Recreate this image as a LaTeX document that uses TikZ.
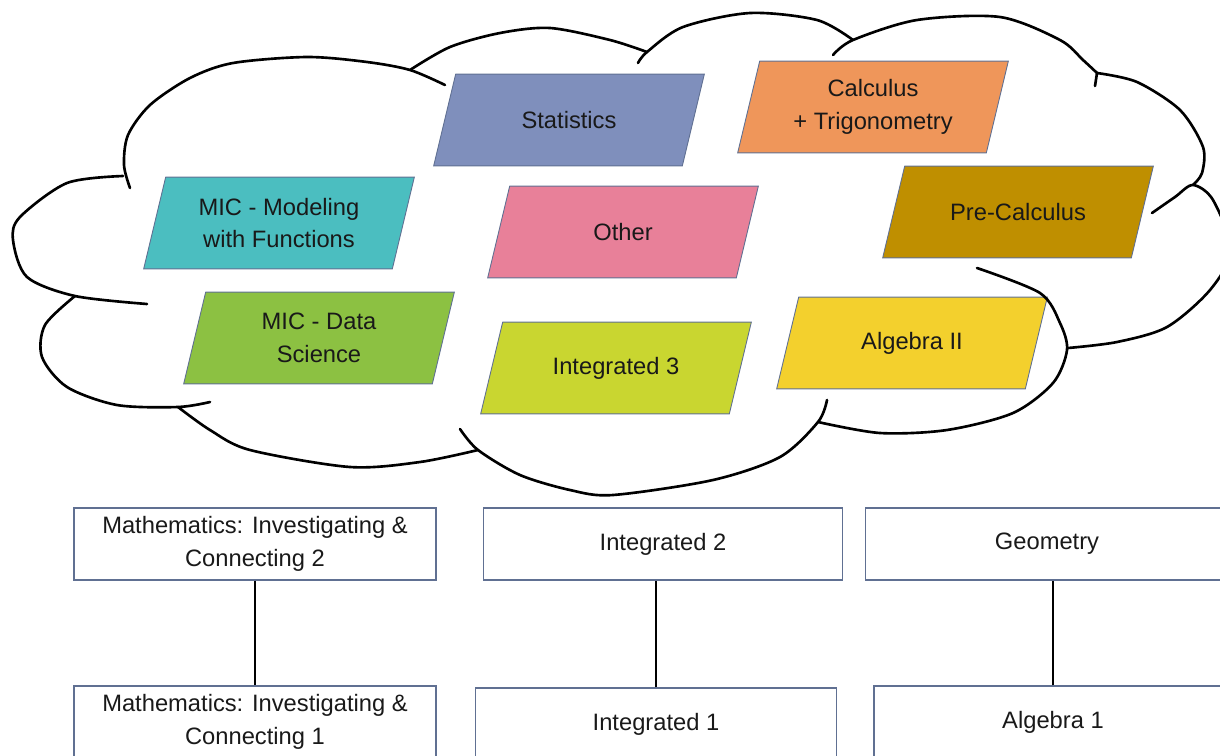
\documentclass[tikz,border=0pt]{standalone}
\usepackage{fontspec}
\setmainfont{Liberation Sans}
\usetikzlibrary{backgrounds}

\definecolor{statblue}{RGB}{127,143,188}
\definecolor{calcorange}{RGB}{239,150,90}
\definecolor{micteal}{RGB}{75,190,192}
\definecolor{otherpink}{RGB}{232,128,153}
\definecolor{precalcgold}{RGB}{191,143,0}
\definecolor{micgreen}{RGB}{140,193,66}
\definecolor{intlime}{RGB}{201,214,48}
\definecolor{alggold}{RGB}{243,208,45}
\definecolor{boxedge}{RGB}{96,112,146}
\definecolor{textgray}{RGB}{25,25,25}

\newcommand\coursefont{\fontsize{13.5}{18.7}\selectfont}

\tikzset{
  cloudline/.style={line width=1.5pt, line cap=round},
  course/.style={rectangle, minimum width=4.96cm, minimum height=1.82cm,
    inner sep=0pt, align=center, font=\coursefont, text=textgray},
  courseback/.style={fill=#1, draw=boxedge, line width=0.5pt},
  level/.style={rectangle, draw=boxedge, line width=0.7pt, minimum height=1.44cm,
    inner sep=0pt, align=center, font=\coursefont, text=textgray},
  link/.style={line width=1pt},
}

\begin{document}
\begin{tikzpicture}[x=0.02cm,y=-0.02cm]
  \useasboundingbox (0,0) rectangle (1220,755);
  \clip (0,0) rectangle (1220,755);
  % cloud outline, one bump at a time
  \draw[cloudline] plot[smooth] coordinates {(130,188) (124,165) (128,135) (150,105) (190,78) (233,63) (307,57) (367,62) (410,70) (445,85)};
  \draw[cloudline] plot[smooth] coordinates {(410,70) (450,47) (500,33) (550,28) (610,40) (647,52)};
  \draw[cloudline] plot[smooth] coordinates {(638,63) (647,52) (683,27) (750,13) (817,20) (853,40)};
  \draw[cloudline] plot[smooth] coordinates {(833,55) (853,40) (917,20) (1000,17) (1060,40) (1083,60) (1097,73)};
  \draw[cloudline] (1097,73) -- (1095,86);
  \draw[cloudline] plot[smooth] coordinates {(1097,73) (1137,82) (1180,110) (1203,147) (1202,173) (1193,185)};
  \draw[cloudline] plot[smooth] coordinates {(1152,213) (1175,197) (1193,185) (1213,200) (1231,250) (1210,290) (1167,327) (1117,342) (1068,348)};
  \draw[cloudline] plot[smooth] coordinates {(818,422) (880,433) (947,430) (1013,413) (1053,383) (1067,350) (1060,323) (1040,293) (977,268)};
  \draw[cloudline] plot[smooth] coordinates {(460,429) (478,450) (520,475) (570,490) (613,495) (713,480) (780,457) (818,422) (827,400)};
  \draw[cloudline] plot[smooth] coordinates {(178,407) (210,430) (250,450) (350,467) (420,462) (478,450)};
  \draw[cloudline] plot[smooth] coordinates {(75,296) (45,325) (42,357) (67,387) (117,405) (178,407) (210,402)};
  \draw[cloudline] plot[smooth] coordinates {(147,304) (75,296) (27,277) (13,240) (20,217) (67,183) (123,176)};

  % courses inside the cloud
  \node[course] (stat) at (569,120) {Statistics};
  \node[course] (calc) at (873,107) {Calculus\\+ Trigonometry};
  \node[course] (micmod) at (279,223) {MIC - Modeling\\with Functions};
  \node[course] (other) at (623,232) {Other};
  \node[course] (precalc) at (1018,212) {Pre-Calculus};
  \node[course] (micdata) at (319,338) {MIC - Data\\Science};
  \node[course] (intthree) at (616,368) {Integrated 3};
  \node[course] (algtwo) at (912,343) {Algebra II};
  % slanted boxes behind them
  \begin{scope}[on background layer]
    \foreach \n/\c in {stat/statblue, calc/calcorange, micmod/micteal, other/otherpink,
        precalc/precalcgold, micdata/micgreen, intthree/intlime, algtwo/alggold}
      \draw[courseback=\c] ([xshift=0.22cm]\n.north west) -- ([xshift=0.22cm]\n.north east)
        -- ([xshift=-0.22cm]\n.south east) -- ([xshift=-0.22cm]\n.south west) -- cycle;
  \end{scope}

  % the three sequences
  \node[level, minimum width=7.24cm] (mictwo) at (255,544) {Mathematics: Investigating \&\\Connecting 2};
  \node[level, minimum width=7.18cm] (inttwo) at (663,544) {Integrated 2};
  \node[level, minimum width=7.26cm] (geom) at (1047,544) {Geometry};
  \node[level, minimum width=7.24cm] (micone) at (255,722) {Mathematics: Investigating \&\\Connecting 1};
  \node[level, minimum width=7.22cm] (intone) at (656,724) {Integrated 1};
  \node[level, minimum width=7.16cm] (algone) at (1053,722) {Algebra 1};

  \draw[link] (mictwo) -- (micone);
  \draw[link] (intone.north) -- (intone.north |- inttwo.south);
  \draw[link] (algone.north) -- (algone.north |- geom.south);
\end{tikzpicture}
\end{document}
